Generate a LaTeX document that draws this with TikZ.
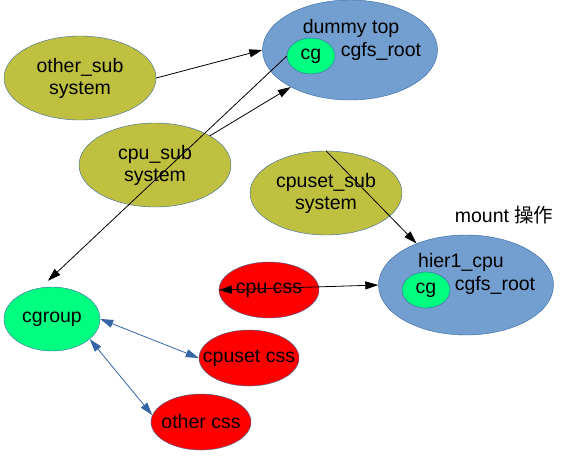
\documentclass[tikz,border=0pt]{standalone}
\usepackage{fontspec}
\setmainfont{Liberation Sans}
\newfontfamily\cjkfont{Noto Sans CJK SC}
\usepackage{xcolor}
\usetikzlibrary{arrows.meta,shapes.geometric}

\definecolor{subolive}{RGB}{191,191,64}
\definecolor{rootblue}{RGB}{114,159,207}
\definecolor{cgreen}{RGB}{0,255,128}
\definecolor{edgeblue}{RGB}{52,101,164}

\begin{document}
\begin{tikzpicture}[
  x=1pt, y=-1pt,
  font=\fontsize{19.5}{22}\selectfont,
  subsys/.style={
    ellipse, draw=edgeblue, fill=subolive, align=center, inner sep=0pt,
    minimum width=152pt, minimum height=84pt
  },
  hier/.style={
    ellipse, draw=edgeblue, fill=rootblue, inner sep=0pt,
    minimum width=175pt, minimum height=100pt
  },
  cgnode/.style={
    ellipse, draw=edgeblue, fill=cgreen, inner sep=0pt,
    minimum width=48pt, minimum height=36pt
  },
  css/.style={
    ellipse, draw=edgeblue, fill=red, inner sep=0pt,
    minimum width=100pt, minimum height=56pt
  },
  link/.style={-{Triangle[length=13pt,width=8pt]}, black, line width=0.8pt},
  bilink/.style={{Triangle[length=13pt,width=8pt]}-{Triangle[length=13pt,width=8pt]}, black, line width=0.8pt},
  csslink/.style={{Triangle[length=13pt,width=8pt]}-{Triangle[length=13pt,width=8pt]}, edgeblue, line width=0.8pt}
]
\useasboundingbox (0,0) rectangle (583,469);

% top hierarchy
\node[hier] (dummytop) at (350,50) {};
\node (dummylbl) at (351,28) {dummy top};
\node[cgnode] (cgtop) at (311,56) {cg};
\node (rootlbl) at (381,51) {cgfs\_root};

% subsystems
\node[subsys] (othersub) at (80,78) {other\_sub\\system};
\node[subsys] (cpusub) at (155,165) {cpu\_sub\\system};
\node[subsys] (cpusetsub) at (326,193) {cpuset\_sub\\system};

% mounted hierarchy
\node (mountlbl) at (504,215) {mount\hspace{5pt}{\cjkfont 操作}};
\node[hier] (hier1) at (466,285) {};
\node (hierlbl) at (461,262) {hier1\_cpu};
\node[cgnode] (cghier) at (426,290) {cg};
\node (hierroot) at (495,285) {cgfs\_root};

% cgroup and css (text may spill over the ellipse)
\node[cgnode, minimum width=96pt, minimum height=64pt] (cgroup) at (52,319) {cgroup};
\node[css] (cpucss) at (269,290) {\makebox[0pt]{cpu css}};
\node[css] (cpusetcss) at (249,358) {\makebox[0pt]{cpuset css}};
\node[css] (othercss) at (201,422) {\makebox[0pt]{other css}};

\draw[link] (othersub.east) -- (dummytop.west);
\draw[link] (cpusub.28) -- (dummytop.212);
\draw[link, shorten >=10pt] (cgtop.west) -- (cgroup.110);
\draw[link] (cpusetsub.north) -- (hier1.140);
\draw[bilink] (cpucss.west) -- (hier1.west);
\draw[csslink] (cgroup.east) -- (cpusetcss.west);
\draw[csslink] (cgroup.-28) -- (othercss.172);
\end{tikzpicture}
\end{document}
